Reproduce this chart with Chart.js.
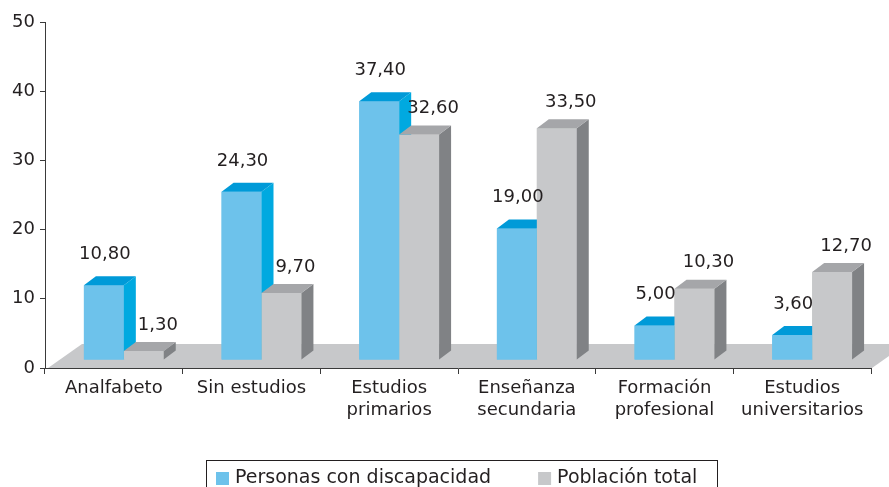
<!DOCTYPE html>
<html>
<head>
<meta charset="utf-8">
<script src="https://cdn.jsdelivr.net/npm/chart.js@4/dist/chart.umd.min.js"></script>
<style>
  html, body { margin: 0; padding: 0; background: #fff; }
</style>
</head>
<body>
<canvas id="chart" width="889" height="487"></canvas>
<script>
// Data
const categories = [
  'Analfabeto',
  'Sin estudios',
  ['Estudios', 'primarios'],
  ['Enseñanza', 'secundaria'],
  ['Formación', 'profesional'],
  ['Estudios', 'universitarios']
];
const personasConDiscapacidad = [10.8, 24.3, 37.4, 19.0, 5.0, 3.6];
const poblacionTotal = [1.3, 9.7, 32.6, 33.5, 10.3, 12.7];
const seriesNames = ['Personas con discapacidad', 'Población total'];
const yMin = 0, yMax = 50, yStep = 10;

const TEXT = '#231f20';
const AXIS = '#3a3a3a';

// fake 3d look
const DEPTH_X = 12, DEPTH_Y = -9;    // bar depth
const SHIFT_X = 10, SHIFT_Y = -8;    // bars stand a bit inside the floor
const FLOOR_X = 34, FLOOR_Y = -24;   // floor depth

const faces = [
  { side: '#00a9e0', top: '#009ad8', labelDx: 1, labelDy: -31 },
  { side: '#808285', top: '#a5a6a9', labelDx: 14, labelDy: -26 }
];

function poly(ctx, pts, color) {
  ctx.fillStyle = color;
  ctx.beginPath();
  ctx.moveTo(pts[0][0], pts[0][1]);
  for (let i = 1; i < pts.length; i++) ctx.lineTo(pts[i][0], pts[i][1]);
  ctx.closePath();
  ctx.fill();
}

const bars3d = {
  id: 'bars3d',
  beforeDraw(chart) {
    // grey floor under the bars
    const { ctx, chartArea, scales } = chart;
    const y0 = scales.y.getPixelForValue(0);
    const l = chartArea.left + 3, r = chartArea.right + 1;
    ctx.save();
    poly(ctx, [[l, y0], [r, y0], [r + FLOOR_X, y0 + FLOOR_Y], [l + FLOOR_X, y0 + FLOOR_Y]], '#c7c8ca');
    ctx.restore();
  },
  beforeDatasetsDraw(chart) {
    chart.ctx.save();
    chart.ctx.translate(SHIFT_X, SHIFT_Y);
  },
  afterDatasetsDraw(chart) {
    const ctx = chart.ctx;
    // redraw in a fixed order so the grey front covers the blue side
    chart.data.datasets.forEach((ds, i) => {
      const f = faces[i];
      chart.getDatasetMeta(i).data.forEach(bar => {
        const { x, y, base, width } = bar.getProps(['x', 'y', 'base', 'width'], true);
        const l = x - width / 2, r = x + width / 2;
        bar.draw(ctx);
        poly(ctx, [[r, y], [r + DEPTH_X, y + DEPTH_Y], [r + DEPTH_X, base + DEPTH_Y], [r, base]], f.side);
        poly(ctx, [[l, y], [l + DEPTH_X, y + DEPTH_Y], [r + DEPTH_X, y + DEPTH_Y], [r, y]], f.top);
      });
    });
    ctx.restore();

    // value labels
    ctx.save();
    ctx.font = '18px "DejaVu Sans"';
    ctx.fillStyle = TEXT;
    ctx.textAlign = 'center';
    ctx.textBaseline = 'middle';
    chart.data.datasets.forEach((ds, i) => {
      const f = faces[i];
      chart.getDatasetMeta(i).data.forEach((bar, j) => {
        const { x, y } = bar.getProps(['x', 'y'], true);
        const txt = ds.data[j].toFixed(2).replace('.', ',');
        ctx.fillText(txt, x + SHIFT_X + f.labelDx, y + SHIFT_Y + f.labelDy);
      });
    });
    ctx.restore();
  },
  afterDraw(chart) {
    // boxed legend at the bottom
    const { ctx, chartArea } = chart;
    ctx.save();
    ctx.font = '19px "DejaVu Sans"';
    const widths = seriesNames.map(n => ctx.measureText(n).width);
    const total = 10 + 13 + 6 + widths[0] + 47 + 13 + 6 + widths[1] + 20;
    const left = Math.round((chartArea.left + chartArea.right) / 2 + 4 - total / 2);
    const top = chart.height - 27;
    ctx.strokeStyle = TEXT;
    ctx.lineWidth = 1;
    ctx.strokeRect(left + 0.5, top + 0.5, Math.round(total), 40);
    ctx.textBaseline = 'middle';
    ctx.fillStyle = TEXT;
    let x = left + 10;
    chart.data.datasets.forEach((ds, i) => {
      ctx.fillStyle = ds.backgroundColor;
      ctx.fillRect(x, top + 12, 13, 13);
      x += 19;
      ctx.fillStyle = TEXT;
      ctx.fillText(seriesNames[i], x, top + 18);
      x += widths[i] + 47;
    });
    ctx.restore();
  }
};

new Chart(document.getElementById('chart'), {
  type: 'bar',
  data: {
    labels: categories,
    datasets: [
      { label: seriesNames[0], data: personasConDiscapacidad, backgroundColor: '#6dc2eb' },
      { label: seriesNames[1], data: poblacionTotal, backgroundColor: '#c7c8ca' }
    ]
  },
  options: {
    responsive: false,
    animation: false,
    devicePixelRatio: 1,
    layout: { padding: { top: 22, right: 18, bottom: 59, left: 0 } },
    datasets: {
      bar: { categoryPercentage: 0.58, barPercentage: 1.0, borderWidth: 0 }
    },
    plugins: {
      legend: { display: false },
      tooltip: { enabled: false }
    },
    scales: {
      x: {
        afterFit(scale) { scale.height = 60; },
        grid: { drawOnChartArea: false, tickLength: 6, color: AXIS, offset: true },
        border: { color: AXIS, width: 1 },
        ticks: { color: TEXT, font: { family: 'DejaVu Sans', size: 18 }, padding: 4, maxRotation: 0, autoSkip: false }
      },
      y: {
        min: yMin,
        max: yMax,
        afterFit(scale) { scale.width = 45; },
        grid: { drawOnChartArea: false, tickLength: 5, color: AXIS },
        border: { color: AXIS, width: 1 },
        ticks: { stepSize: yStep, color: TEXT, font: { family: 'DejaVu Sans', size: 18 }, padding: 5 }
      }
    }
  },
  plugins: [bars3d]
});
</script>
</body>
</html>
